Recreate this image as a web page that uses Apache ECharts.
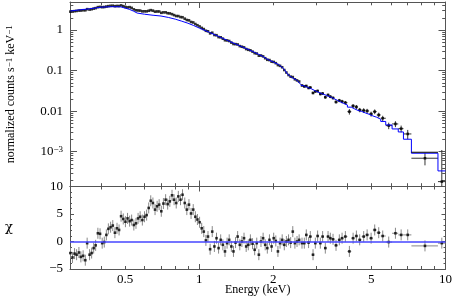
<!DOCTYPE html>
<html><head><meta charset="utf-8">
<script src="https://cdn.jsdelivr.net/npm/echarts@6/dist/echarts.min.js"></script>
<style>html,body{margin:0;padding:0;background:#fff}#c{width:460px;height:298px}</style>
</head><body><div id="c"></div>
<script>
// ---------------- data ----------------
const denseEnergy = [0.300,0.306,0.312,0.318,0.325,0.331,0.338,0.345,0.351,0.359,
0.366,0.373,0.380,0.388,0.396,0.404,0.412,0.420,0.428,0.437,
0.446,0.455,0.464,0.473,0.482,0.492,0.502,0.512,0.522,0.532,
0.543,0.554,0.565,0.576,0.588,0.600,0.612,0.624,0.636,0.649,
0.662,0.675,0.688,0.702,0.716,0.731,0.745,0.760,0.776,0.791,
0.807,0.823,0.840,0.856,0.874,0.891,0.909,0.927,0.946,0.965,
0.984,1.004,1.024,1.044,1.065,1.086,1.108,1.130,1.153,1.176,
1.199,1.223,1.248,1.273,1.298,1.324,1.351,1.378,1.405,1.433,
1.462,1.491,1.521,1.552,1.583,1.614,1.647,1.680,1.713,1.747,
1.782,1.818,1.854,1.891,1.929,1.968,2.007,2.047,2.088,2.130,
2.173,2.216,2.260,2.306,2.352,2.399,2.447,2.496,2.546];
const denseCounts = [2.835,2.840,2.917,2.951,3.017,3.022,3.067,3.062,3.265,3.186,
3.256,3.366,3.461,3.657,3.717,3.654,3.684,3.783,3.875,3.941,
3.968,3.862,3.919,3.892,4.044,3.868,3.696,3.611,3.664,3.513,
3.224,3.058,3.034,3.008,2.884,2.892,2.884,2.983,3.086,2.998,
2.835,2.863,2.861,2.654,2.721,2.724,2.592,2.563,2.459,2.327,
2.211,2.203,2.087,2.061,1.900,1.766,1.730,1.578,1.535,1.404,
1.311,1.225,1.126,1.054,0.957,0.929,0.826,0.857,0.753,0.744,
0.669,0.661,0.611,0.560,0.554,0.535,0.489,0.452,0.449,0.440,
0.401,0.387,0.373,0.339,0.325,0.316,0.293,0.269,0.263,0.233,
0.235,0.224,0.2017,0.1845,0.1815,0.1656,0.1634,0.1524,0.1365,0.1308,
0.1207,0.1033,0.0895,0.0777,0.0708,0.0692,0.0609,0.0572,0.0538];
const denseChi = [-2.1,-2.9,-2.2,-2.4,-2.0,-2.8,-2.6,-3.4,-0.3,-2.4,
-2.1,-1.2,-0.7,1.5,1.4,-0.3,-0.1,1.2,2.3,2.6,
2.9,1.6,2.4,2.1,4.6,4.1,3.6,4.2,3.7,3.9,
3.0,3.3,4.2,4.5,3.9,4.5,4.8,6.1,7.4,7.0,
5.8,6.4,6.7,5.5,6.9,7.6,6.8,7.3,8.4,7.6,
7.0,8.2,7.6,8.5,7.0,5.8,6.7,5.1,5.8,4.5,
4.0,3.5,2.4,1.8,0.2,0.9,-1.4,1.8,-0.9,0.6,
-1.2,0.3,-0.6,-1.8,-0.3,0.3,-0.9,-1.8,-0.2,0.9,
-0.6,0.0,0.6,-0.9,-0.6,0.3,-0.4,-1.5,-0.3,-2.4,
0.0,0.6,-0.6,-1.2,0.3,-0.9,0.6,0.1,-1.8,-0.3,
0.3,-0.6,0.0,0.3,-0.2,1.8,-0.3,0.0,0.3];

const sparseEnergy = [2.615,2.672,2.722,2.781,2.826,2.899,2.962,3.026,3.104,3.171,
3.252,3.336,3.408,3.495,3.594,3.707,3.803,3.922,4.072,4.216,
4.348,4.484,4.655,4.806,4.989,5.160,5.357,5.561,5.882,6.262,
6.605,7.025,8.254,9.660];
const sparseEdges = [2.590,2.643,2.697,2.751,2.803,2.862,2.930,2.994,3.065,3.137,
3.211,3.294,3.372,3.451,3.544,3.650,3.755,3.862,3.997,4.144,
4.282,4.416,4.569,4.730,4.897,5.074,5.258,5.459,5.720,6.070,
6.430,6.750,7.270,9.320,10.0];
const sparseCounts = [0.04295,0.04058,0.04176,0.03728,0.03834,0.02808,0.03056,0.03144,0.02652,0.02729,
0.02200,0.02506,0.02276,0.02114,0.01685,0.01834,0.01733,0.01620,0.009721,0.01343,
0.01269,0.01071,0.01040,0.01011,0.008531,0.009721,0.00806,0.006685,0.00440,0.004838,
0.003707,0.002744,0.0006916,0.0001834];
const sparseErr = [0.0026,0.0024,0.0026,0.0024,0.0025,0.0020,0.0021,0.0023,0.0020,0.0021,
0.0018,0.0020,0.0019,0.0019,0.0015,0.0017,0.0017,0.0016,0.0015,0.0015,
0.0015,0.0013,0.0014,0.0013,0.0012,0.0013,0.0011,0.0010,0.0008,0.0008,
0.0007,0.0007,0.00023,0.00092];
const sparseChi = [-0.3,-0.3,1.2,-0.2,0.9,-2.4,-0.3,1.0,-0.3,0.9,
-1.2,0.9,0.6,0.4,-0.7,0.3,0.6,0.9,-1.8,0.6,
1.0,0.3,0.9,1.2,0.6,2.1,1.6,1.0,-0.1,1.5,
1.2,1.2,-0.8,-0.3];

const modelEnergy = [0.30,0.33,0.36,0.40,0.44,0.48,0.52,0.54,0.56,0.60,0.65,0.70,0.75,0.80,0.85,0.90,0.95,
1.0,1.1,1.2,1.3,1.4,1.5,1.6,1.7,1.8,1.9,2.0,2.1,2.2,2.3,2.4,2.5,2.59];
const modelCounts = [2.94,3.16,3.33,3.66,3.75,3.73,3.24,2.94,2.62,2.45,2.31,2.21,2.04,1.85,1.65,1.47,1.29,
1.12,0.878,0.692,0.557,0.457,0.381,0.322,0.271,0.229,0.1877,0.163,0.1413,0.1126,0.078,0.0657,0.057,0.0447];
const modelBinCounts = [0.04295,0.04058,0.03879,0.03686,0.03523,0.03272,0.03056,0.02888,0.02729,0.02578,
0.02436,0.02302,0.02175,0.01998,0.01834,0.01685,0.01548,0.01421,0.01254,0.01133,
0.01040,0.009831,0.009031,0.008386,0.007616,0.007075,0.006317,0.005575,0.004572,0.003644,
0.003074,0.002032,0.0009186,0.0003366];
const blackStepEnergy = [7.27, 9.32];
const blackStepCounts = [0.00097, 0.00097];

const xMajorTicks = [1, 10];
const xMinorTicks = [0.4,0.5,0.6,0.7,0.8,0.9,2,3,4,5,6,7,8,9];
const xTickLabels = [0.5, 1, 2, 5, 10];
const yMajorTicks = [0.001, 0.01, 0.1, 1];
const yMinorTicks = [2e-4,3e-4,4e-4,5e-4,6e-4,7e-4,8e-4,9e-4,
0.002,0.003,0.004,0.005,0.006,0.007,0.008,0.009,
0.02,0.03,0.04,0.05,0.06,0.07,0.08,0.09,
0.2,0.3,0.4,0.5,0.6,0.7,0.8,0.9,2,3,4];

const X_MIN = 0.299, X_MAX = 10, Y_MIN = 1.39e-4, Y_MAX = 4.9;
const CHI_MIN = -5, CHI_MAX = 10;

// ---------------- build ----------------
const AX = '#555', FONT = 'Liberation Serif';
const SUP = { sup: { fontSize: 9, lineHeight: 9, verticalAlign: 'top', fontFamily: FONT, color: '#000' } };

function logX(grid, pos, ticks, len, line, label) {
  return {
    type: 'log', logBase: 10, gridIndex: grid, position: pos, min: X_MIN, max: X_MAX,
    axisLine: { show: line, onZero: false, lineStyle: { color: AX, width: 1 } },
    axisTick: { show: true, inside: true, length: len, customValues: ticks, lineStyle: { color: AX, width: 1 } },
    axisLabel: label || { show: false },
    splitLine: { show: false }, minorTick: { show: false }, nameMoveOverlap: false
  };
}
function logY(pos, ticks, len, line, label, extra) {
  return Object.assign({
    type: 'log', logBase: 10, gridIndex: 0, position: pos, min: Y_MIN, max: Y_MAX,
    axisLine: { show: line, onZero: false, lineStyle: { color: AX, width: 1 } },
    axisTick: { show: true, inside: true, length: len, customValues: ticks, lineStyle: { color: AX, width: 1 } },
    axisLabel: label || { show: false },
    splitLine: { show: false }, minorTick: { show: false }, nameMoveOverlap: false
  }, extra || {});
}
function chiY(pos, label, extra) {
  return Object.assign({
    type: 'value', gridIndex: 1, position: pos, min: CHI_MIN, max: CHI_MAX, interval: 5,
    axisLine: { show: true, onZero: false, lineStyle: { color: AX, width: 1 } },
    axisTick: { show: true, inside: true, length: 4, lineStyle: { color: AX, width: 1 } },
    minorTick: { show: true, splitNumber: 5, length: 2, lineStyle: { color: AX, width: 1 } },
    axisLabel: label || { show: false },
    splitLine: { show: false }, minorSplitLine: { show: false }, nameMoveOverlap: false
  }, extra || {});
}

const xLabelCfg = {
  show: true, customValues: xTickLabels, margin: 4, color: '#000',
  fontFamily: FONT, fontSize: 13,
  formatter: v => String(Math.round(v * 10) / 10)
};
const yLabelCfg = {
  show: true, customValues: yMajorTicks, margin: 7, color: '#000',
  fontFamily: FONT, fontSize: 13,
  formatter: v => {
    const e = Math.round(Math.log10(v));
    if (e >= -2) return v.toFixed(Math.max(0, -e));
    return '10{sup|\u2212' + (-e) + '}';
  },
  rich: SUP
};
const chiLabelCfg = {
  show: true, margin: 7, color: '#000', fontFamily: FONT, fontSize: 13,
  formatter: v => (v < 0 ? '\u2212' + (-v) : String(v))
};

// data tables for the library
const pts = [], res = [], topErr = [], resErr = [];
denseEnergy.forEach((e, i) => {
  pts.push([e, denseCounts[i]]);
  res.push([e, denseChi[i]]);
  resErr.push([e, denseChi[i], e, e, denseChi[i] - 1, denseChi[i] + 1]);
});
sparseEnergy.forEach((e, i) => {
  const c = sparseCounts[i], s = sparseErr[i];
  pts.push([e, c]);
  res.push([e, sparseChi[i]]);
  topErr.push([e, c, sparseEdges[i], sparseEdges[i + 1], Math.max(Y_MIN, c - s), Math.min(Y_MAX, c + s)]);
  resErr.push([e, sparseChi[i], sparseEdges[i], sparseEdges[i + 1], sparseChi[i] - 1, sparseChi[i] + 1]);
});
const modelSmooth = modelEnergy.map((e, i) => [e, modelCounts[i]]);
const modelStep = modelBinCounts.map((c, i) => [sparseEdges[i], c]);
modelStep.push([sparseEdges[sparseEdges.length - 1], modelBinCounts[modelBinCounts.length - 1]]);
const blackStep = blackStepEnergy.map((e, i) => [e, blackStepCounts[i]]);

function errRender(color) {
  return function (params, api) {
    const x = api.value(0), y = api.value(1);
    const xl = api.value(2), xh = api.value(3), yl = api.value(4), yh = api.value(5);
    const st = { stroke: color, lineWidth: 1 };
    const ch = [];
    const a = api.coord([x, yl]), b = api.coord([x, yh]);
    ch.push({ type: 'line', shape: { x1: a[0], y1: a[1], x2: b[0], y2: b[1] }, style: st });
    if (xl !== xh) {
      const c = api.coord([xl, y]), d = api.coord([xh, y]);
      ch.push({ type: 'line', shape: { x1: c[0], y1: c[1], x2: d[0], y2: d[1] }, style: st });
    }
    return { type: 'group', children: ch };
  };
}

const option = {
  backgroundColor: '#fff',
  animation: false,
  grid: [
    { left: 70, right: 14.5, top: 2, height: 184.5, containLabel: false, outerBoundsMode: 'none' },
    { left: 70, right: 14.5, top: 186.5, height: 82.5, containLabel: false, outerBoundsMode: 'none' }
  ],
  xAxis: [
    logX(0, 'bottom', xMinorTicks, 3.3, true, null),
    logX(0, 'bottom', xMajorTicks, 6, false, null),
    logX(0, 'top', xMinorTicks, 3.3, true, null),
    logX(0, 'top', xMajorTicks, 6, false, null),
    Object.assign(logX(1, 'bottom', xMinorTicks, 3, true, xLabelCfg), {
      name: 'Energy (keV)', nameLocation: 'middle', nameGap: 15,
      nameTextStyle: { fontFamily: FONT, fontSize: 12, color: '#000' }
    }),
    logX(1, 'bottom', xMajorTicks, 5, false, null),
    logX(1, 'top', xMinorTicks, 3, true, null),
    logX(1, 'top', xMajorTicks, 5, false, null)
  ],
  yAxis: [
    logY('left', yMajorTicks, 7, true, yLabelCfg, {
      name: 'normalized counts s{sup|\u22121} keV{sup|\u22121}', nameLocation: 'middle', nameGap: 53,
      nameRotate: 90,
      nameTextStyle: { fontFamily: FONT, fontSize: 12, color: '#000', rich: SUP }
    }),
    logY('left', yMinorTicks, 3.3, false, null),
    logY('right', yMajorTicks, 7, true, null),
    logY('right', yMinorTicks, 3.3, false, null),
    chiY('left', chiLabelCfg, {
      name: '\u03c7', nameLocation: 'middle', nameGap: 57, nameRotate: 0,
      nameTextStyle: { fontFamily: 'DejaVu Serif', fontSize: 13, color: '#000' }
    }),
    chiY('right', null)
  ],
  series: [
    { type: 'custom', xAxisIndex: 0, yAxisIndex: 0, data: topErr, renderItem: errRender('#333'),
      encode: { x: 0, y: 1 }, clip: true, z: 2, silent: true },
    { type: 'scatter', xAxisIndex: 0, yAxisIndex: 0, data: pts, symbol: 'rect', symbolSize: 2.6,
      itemStyle: { color: '#000' }, z: 3, silent: true, clip: true },
    { type: 'line', xAxisIndex: 0, yAxisIndex: 0, data: modelSmooth, showSymbol: false, symbol: 'none',
      lineStyle: { color: '#0000ff', width: 1 }, z: 4, silent: true },
    { type: 'line', xAxisIndex: 0, yAxisIndex: 0, data: modelStep, step: 'end', showSymbol: false, symbol: 'none',
      lineStyle: { color: '#0000ff', width: 1 }, z: 4, silent: true },
    { type: 'line', xAxisIndex: 0, yAxisIndex: 0, data: blackStep, showSymbol: false, symbol: 'none',
      lineStyle: { color: '#000', width: 1 }, z: 4, silent: true },
    { type: 'custom', xAxisIndex: 4, yAxisIndex: 4, data: resErr, renderItem: errRender('#888'),
      encode: { x: 0, y: 1 }, clip: true, z: 2, silent: true,
      markLine: { silent: true, symbol: ['none', 'none'], label: { show: false },
        lineStyle: { color: '#4646ff', width: 1.5, type: 'solid' }, data: [{ yAxis: 0 }] } },
    { type: 'scatter', xAxisIndex: 4, yAxisIndex: 4, data: res, symbol: 'rect', symbolSize: 2.6,
      itemStyle: { color: '#000' }, z: 3, silent: true, clip: true }
  ]
};

const chart = echarts.init(document.getElementById('c'), null, { renderer: 'canvas' });
chart.setOption(option);
</script>
</body></html>
